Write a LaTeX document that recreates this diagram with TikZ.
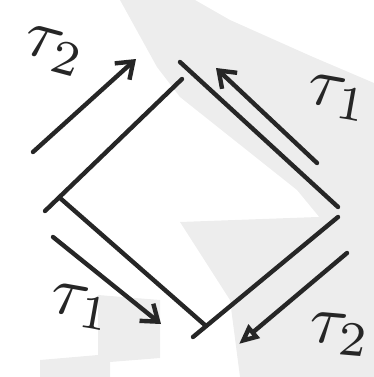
\documentclass[tikz,border=0pt]{standalone}
\usepackage{graphicx}
\usetikzlibrary{arrows.meta}
\begin{document}
\begin{tikzpicture}[x=1bp,y=-1bp,
  ink/.style={line width=4.4bp, draw=black!85, line cap=round},
  barb/.style={ink, -{Straight Barb[length=15bp,width=22bp,line width=4.4bp]}},
  tri/.style={ink, -{Triangle[open,length=20bp,width=17bp,line width=4.4bp]}},
  shade/.style={fill=black!7, draw=none},
  lbl/.style={inner sep=0pt, text=black!85}]
\useasboundingbox (0,0) rectangle (374,377);
% background smudges of the scan
\fill[shade] (120,0) -- (195,0) -- (230,20) -- (313,57) -- (374,83) -- (374,300)
  -- (330,230) -- (297,190) -- (180,97) -- (157,67) -- cycle;
\fill[shade] (180,222) -- (290,218) -- (374,215) -- (374,377) -- (240,377) -- (230,300) -- cycle;
\fill[shade] (98,295) -- (160,300) -- (160,358) -- (110,362) -- (110,377) -- (40,377) -- (40,360) -- (98,355) -- cycle;
% diamond edges (hand drawn, overshooting at corners)
\coordinate (ulA) at (45,211);  \coordinate (ulB) at (182,79);
\coordinate (urA) at (180,62);  \coordinate (urB) at (338,207);
\coordinate (lrA) at (338,217); \coordinate (lrB) at (193,337);
\coordinate (llA) at (60,198);  \coordinate (llB) at (206,326);
\draw[ink] (ulA) -- (ulB);
\draw[ink] (urA) -- (urB);
\draw[ink] (lrA) -- (lrB);
\draw[ink] (llA) -- (llB);
% arrows
\coordinate (a1s) at (33,152);  \coordinate (a1e) at (136,59);
\coordinate (a2s) at (317,163); \coordinate (a2e) at (216,68);
\coordinate (a3s) at (53,237);  \coordinate (a3e) at (161,324);
\coordinate (a4s) at (347,253); \coordinate (a4e) at (239,344);
\draw[barb] (a1s) -- (a1e);
\draw[barb] (a2s) -- (a2e);
\draw[barb] (a3s) -- (a3e);
\draw[tri]  (a4s) -- (a4e);
% labels
\node[lbl, rotate=-15] (t2a) at (54,51)  {\scalebox{7}{$\tau_2$}};
\node[lbl, rotate=-10] (t1a) at (338,98) {\scalebox{7}{$\tau_1$}};
\node[lbl, rotate=-10] (t1b) at (81,307) {\scalebox{7}{$\tau_1$}};
\node[lbl, rotate=-5]  (t2b) at (340,334) {\scalebox{7}{$\tau_2$}};
\end{tikzpicture}
\end{document}
